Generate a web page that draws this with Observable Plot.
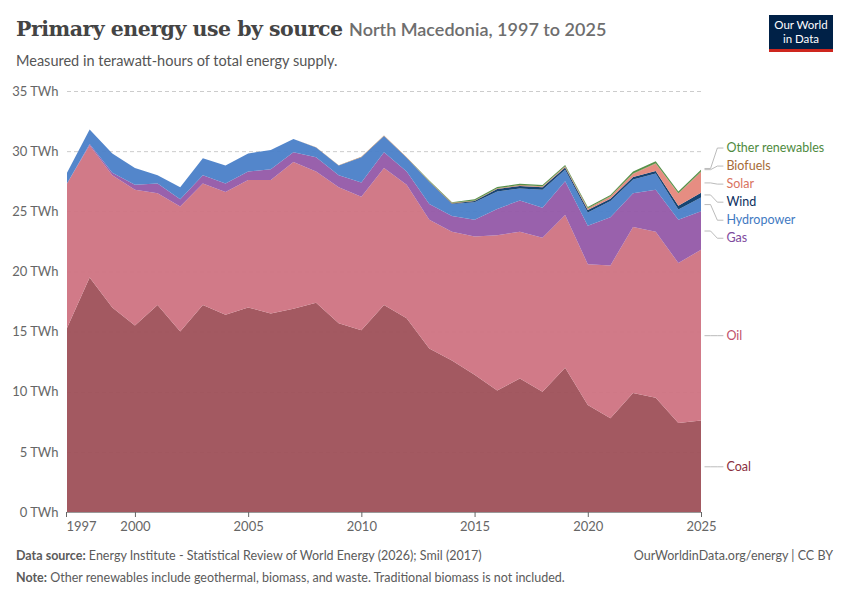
<!DOCTYPE html>
<html><head><meta charset="utf-8">
<script src="https://cdn.jsdelivr.net/npm/d3@7"></script>
<script src="https://cdn.jsdelivr.net/npm/@observablehq/plot@0.6"></script>
<style>
body{margin:0;background:#fff;font-family:Lato,sans-serif;}
#wrap{width:850px;height:600px;position:relative;}
h1{position:absolute;left:16px;top:17px;margin:0;font-family:"DejaVu Serif",serif;font-size:20.5px;font-weight:600;color:#444;letter-spacing:-0.5px}
h1 span{font-family:Lato,sans-serif;font-size:18px;font-weight:600;color:#6e6e6e;letter-spacing:0}
.sub{position:absolute;left:16px;top:52px;font-size:14.5px;color:#555}
.logo{position:absolute;right:17px;top:15px;width:64px;height:37px;background:#002147;color:#fff;font-size:11.5px;text-align:center;line-height:14px;padding-top:3px;box-sizing:border-box;border-bottom:3px solid #ce261e}
.foot{position:absolute;left:16px;font-size:12.5px;color:#5b5b5b}
#chart{position:absolute;left:0;top:78px}
</style></head><body><div id="wrap">
<h1>Primary energy use by source <span>North Macedonia, 1997 to 2025</span></h1>
<div class="sub">Measured in terawatt-hours of total energy supply.</div>
<div class="logo">Our World<br>in Data</div>
<div id="chart"></div>
<div class="foot" style="top:548px"><b>Data source:</b> Energy Institute - Statistical Review of World Energy (2026); Smil (2017)</div>
<div class="foot" style="top:548px;left:auto;right:17px">OurWorldinData.org/energy | CC BY</div>
<div class="foot" style="top:570px"><b>Note:</b> Other renewables include geothermal, biomass, and waste. Traditional biomass is not included.</div>
</div>
<script>
const years=d3.range(1997,2026);
const coal=[15.3,19.5,17.0,15.5,17.2,15.0,17.2,16.4,17.0,16.5,16.9,17.4,15.7,15.1,17.2,16.1,13.6,12.6,11.4,10.1,11.1,10.0,12.0,8.9,7.8,9.9,9.5,7.4,7.6];
const oil=[12.0,11.0,11.0,11.3,9.3,10.4,10.1,10.2,10.6,11.1,12.2,10.9,11.3,11.1,11.4,11.1,10.7,10.7,11.5,12.9,12.2,12.8,12.7,11.7,12.7,13.8,13.8,13.3,14.2];
const gas=[0,0.1,0.2,0.4,0.8,0.6,0.7,0.7,0.7,0.9,0.8,1.2,1.0,1.2,1.3,1.1,1.3,1.3,1.4,2.2,2.6,2.5,2.8,3.2,4.0,2.8,3.5,3.6,3.2];
const hydro=[0.9,1.2,1.6,1.4,0.7,1.0,1.4,1.5,1.5,1.6,1.1,0.8,0.8,2.1,1.35,1.15,1.85,1.0,1.45,1.45,1.0,1.5,0.95,1.1,1.35,1.15,1.35,0.85,1.15];
const wind=[0,0,0,0,0,0,0,0,0,0,0,0,0,0,0,0,0,0.05,0.1,0.2,0.2,0.2,0.2,0.2,0.2,0.2,0.2,0.3,0.4];
const solar=[0,0,0,0,0,0,0,0,0,0,0,0,0,0,0,0,0,0,0,0.02,0.03,0.04,0.05,0.1,0.15,0.25,0.6,1.0,1.7];
const biofuels=[0,0,0,0,0,0,0,0,0,0,0,0.02,0.03,0.04,0.05,0.05,0.05,0.05,0.05,0.05,0.05,0.05,0.05,0.05,0.05,0.05,0.05,0.05,0.05];
const other=[0,0,0,0,0,0,0,0,0,0,0,0,0,0,0,0,0.05,0.05,0.1,0.1,0.1,0.1,0.1,0.1,0.1,0.15,0.15,0.15,0.15];
const sources=["Coal","Oil","Gas","Hydropower","Wind","Solar","Biofuels","Other renewables"];
const colors=["#9e5058","#cf7382","#9359a8","#4a80c8","#0b3a6a","#e5877b","#b1784a","#4e8a3e"];
const textColors=["#8a3040","#c1506a","#7e4a9e","#3f7ac2","#0b2f5e","#d9735f","#a66b38","#4e8a3e"];
const series=[coal,oil,gas,hydro,wind,solar,biofuels,other];
const rows=[];
sources.forEach((s,i)=>years.forEach((y,j)=>rows.push({year:y,source:s,value:series[i][j]})));
const labelY=[3.8,14.7,22.8,24.3,25.8,27.3,28.8,30.3];
const anchorY=[3.8,14.7,23.4,25.6,26.4,27.4,28.5,28.6];
const labels=sources.map((s,i)=>({source:s,y:labelY[i],a:anchorY[i],c:textColors[i]}));
const connectors=labels.flatMap(l=>[
  {source:l.source,x:2025.15,y:l.a},{source:l.source,x:2025.4,y:l.a},
  {source:l.source,x:2025.7,y:l.y},{source:l.source,x:2025.95,y:l.y}]);
const yTicks=[0,5,10,15,20,25,30,35];
const xTicks=[1997,2000,2005,2010,2015,2020,2025];
const chart=Plot.plot({
  width:850,height:466,marginLeft:67,marginRight:149,marginTop:13,marginBottom:32,
  style:{fontFamily:"Lato,sans-serif",fontSize:"13px",color:"#666"},
  x:{domain:[1997,2025],label:null},
  y:{domain:[0,35],ticks:yTicks,tickFormat:d=>d+" TWh",label:null,tickSize:0},
  color:{domain:sources,range:colors},
  marks:[
    Plot.gridY(yTicks,{stroke:"#ccc",strokeDasharray:"4,3",strokeOpacity:1}),
    Plot.areaY(rows,{x:"year",y:"value",fill:"source",order:sources,fillOpacity:0.95}),
    Plot.ruleY([0],{stroke:"#999"}),
    Plot.axisX(xTicks.slice(1),{tickFormat:d=>String(d),tickSize:5,label:null}),
    Plot.axisX([1997],{tickFormat:d=>String(d),tickSize:5,label:null,textAnchor:"start",dx:-1}),
    Plot.line(connectors,{x:"x",y:"y",z:"source",stroke:"#aaa",strokeWidth:0.8}),
    Plot.text(labels,{x:2026.1,y:"y",text:"source",fill:"c",textAnchor:"start",fontSize:12.5})
  ]
});
document.getElementById("chart").append(chart);
</script></body></html>
